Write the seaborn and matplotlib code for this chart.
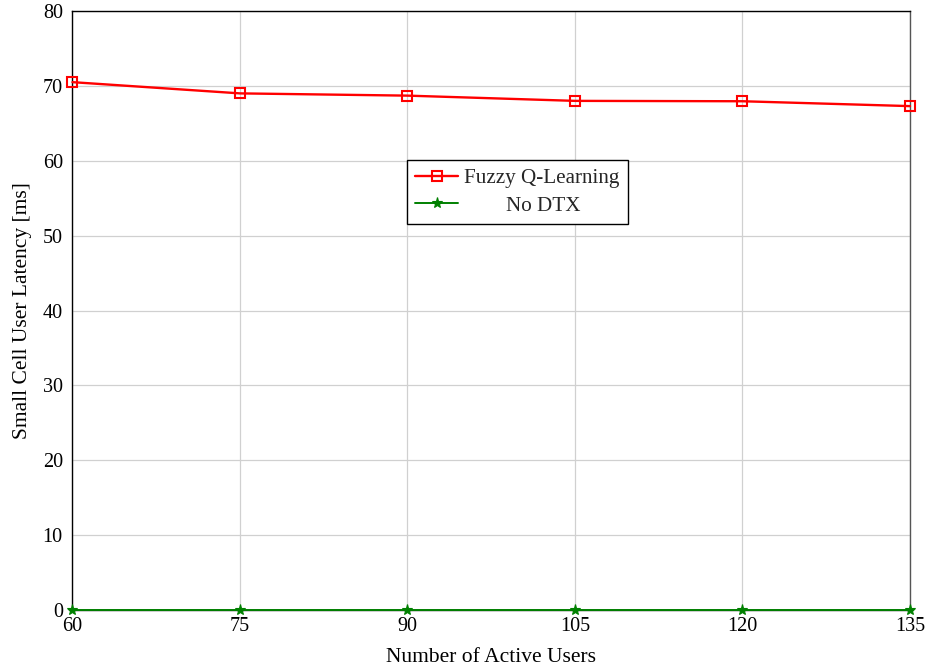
import matplotlib
matplotlib.use("Agg")
import matplotlib.pyplot as plt
import seaborn as sns
import pandas as pd

# Latency per number of active users
users = [60, 75, 90, 105, 120, 135]
fuzzy_q_latency = [70.5, 69.0, 68.7, 68.0, 67.95, 67.3]
no_dtx_latency = [0, 0, 0, 0, 0, 0]
series_names = ["Fuzzy Q-Learning", "No DTX"]

fuzzy_df = pd.DataFrame({"users": users, "latency": fuzzy_q_latency})
nodtx_df = pd.DataFrame({"users": users, "latency": no_dtx_latency})

sns.set_theme(style="whitegrid")
plt.rcParams["font.family"] = ["Liberation Serif", "DejaVu Serif"]

fig = plt.figure(figsize=(9.28, 6.68), dpi=100)
ax = fig.add_axes([0.0781, 0.0868, 0.9025, 0.8967])

sns.lineplot(data=fuzzy_df, x="users", y="latency", color="#ff0000",
             linewidth=1.7, marker="s", markersize=7.5, markerfacecolor="none",
             markeredgecolor="#ff0000", markeredgewidth=1.5,
             label=series_names[0], ax=ax, clip_on=False, zorder=5)
# leading spaces keep the second legend entry centred under the first
sns.lineplot(data=nodtx_df, x="users", y="latency", color="#008000",
             linewidth=1.4, marker="*", markersize=8, markerfacecolor="#008000",
             markeredgecolor="#008000", markeredgewidth=0.8,
             label="        " + series_names[1], ax=ax, clip_on=False, zorder=5)

ax.set_xlim(60, 135)
ax.set_ylim(0, 80)
ax.set_xticks(users)
ax.set_yticks(range(0, 81, 10))
ax.grid(True, color="#d0d0d0", linewidth=0.9)
ax.set_facecolor("white")
for side in ["left", "bottom", "top"]:
    ax.spines[side].set_color("black")
    ax.spines[side].set_linewidth(1.0)
ax.spines["right"].set_color("#555555")
ax.spines["right"].set_linewidth(1.0)

ax.tick_params(axis="both", labelsize=14.5, colors="black", length=0)
ax.tick_params(axis="y", pad=7)
ax.tick_params(axis="x", pad=5)
ax.set_xlabel("Number of Active Users", fontsize=15.5, color="black", labelpad=9)
ax.set_ylabel("Small Cell User Latency [ms]", fontsize=15.5, color="black", labelpad=8)

leg = ax.legend(loc="upper left", bbox_to_anchor=(0.3994, 0.751),
                fontsize=15.2, frameon=True, fancybox=False, edgecolor="black",
                framealpha=1, handlelength=2.0, handletextpad=0.3,
                borderpad=0.4, labelspacing=0.35, borderaxespad=0)
leg.get_frame().set_linewidth(1.0)

fig.savefig("out.png", dpi=100)
